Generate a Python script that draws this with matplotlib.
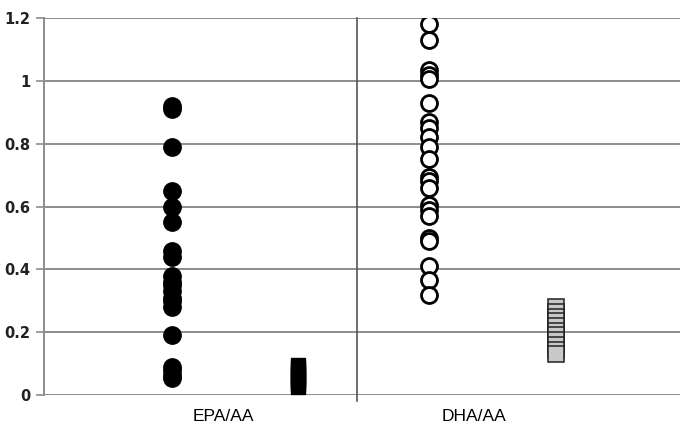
import matplotlib
matplotlib.use('Agg')
import matplotlib.pyplot as plt

# values
epa_circles = [0.92, 0.91, 0.79, 0.65, 0.60, 0.55, 0.46, 0.44, 0.38, 0.36,
               0.35, 0.33, 0.31, 0.30, 0.28, 0.19, 0.09, 0.08, 0.065, 0.055]
epa_squares = [0.095, 0.085, 0.075, 0.065, 0.055, 0.045, 0.035, 0.025]
dha_circles = [1.18, 1.13, 1.035, 1.02, 1.005, 0.93, 0.87, 0.85, 0.82, 0.79,
               0.75, 0.695, 0.68, 0.66, 0.605, 0.59, 0.57, 0.50, 0.49,
               0.41, 0.365, 0.32]
dha_squares = [0.28, 0.265, 0.25, 0.235, 0.22, 0.205, 0.19, 0.175, 0.16,
               0.145, 0.13]
categories = ['EPA/AA', 'DHA/AA']
yticks = [0, 0.2, 0.4, 0.6, 0.8, 1, 1.2]
ytick_labels = ['0', '0.2', '0.4', '0.6', '0.8', '1', '1.2']

fig = plt.figure(figsize=(6.8, 4.29), dpi=100)
ax = fig.add_axes([0.0647, 0.079, 0.9353, 0.879])

grid_col = '#8c8c8c'
for y in yticks:
    ax.axhline(y, color=grid_col, lw=1.4, zorder=1)

ax.plot([1, 1], [-0.018, 1.2], color='#555555', lw=1.2, clip_on=False, zorder=1)

ax.plot([0.41] * len(epa_circles), epa_circles, 'o', color='black',
        markersize=12.5, zorder=3)
ax.plot([0.81] * len(epa_squares), epa_squares, 's', color='black',
        markersize=10.5, zorder=3)
ax.plot([1.23] * len(dha_circles), dha_circles, 'o', markerfacecolor='white',
        markeredgecolor='black', markeredgewidth=2.0, markersize=11.5, zorder=3)
ax.plot([1.635] * len(dha_squares), dha_squares, 's', markerfacecolor='#c8c8c8',
        markeredgecolor='#222222', markeredgewidth=1.1, markersize=11, zorder=3)

ax.set_xlim(0, 2.03)
ax.set_ylim(0, 1.2)
ax.set_yticks(yticks)
ax.set_yticklabels(ytick_labels, fontsize=10.5, fontweight='bold',
                   family='DejaVu Sans', color='#222222')
ax.tick_params(axis='y', direction='out', length=6, width=1.2,
               color=grid_col, pad=4)
ax.set_xticks([])

for s in ['top', 'right', 'bottom']:
    ax.spines[s].set_visible(False)
ax.spines['left'].set_color(grid_col)
ax.spines['left'].set_linewidth(1.4)

for xpos, lab in zip([0.572, 1.371], categories):
    ax.text(xpos, -0.045, lab, ha='center', va='top', fontsize=12.5,
            family='Liberation Sans', transform=ax.transData)

fig.savefig('out.png', dpi=100)
